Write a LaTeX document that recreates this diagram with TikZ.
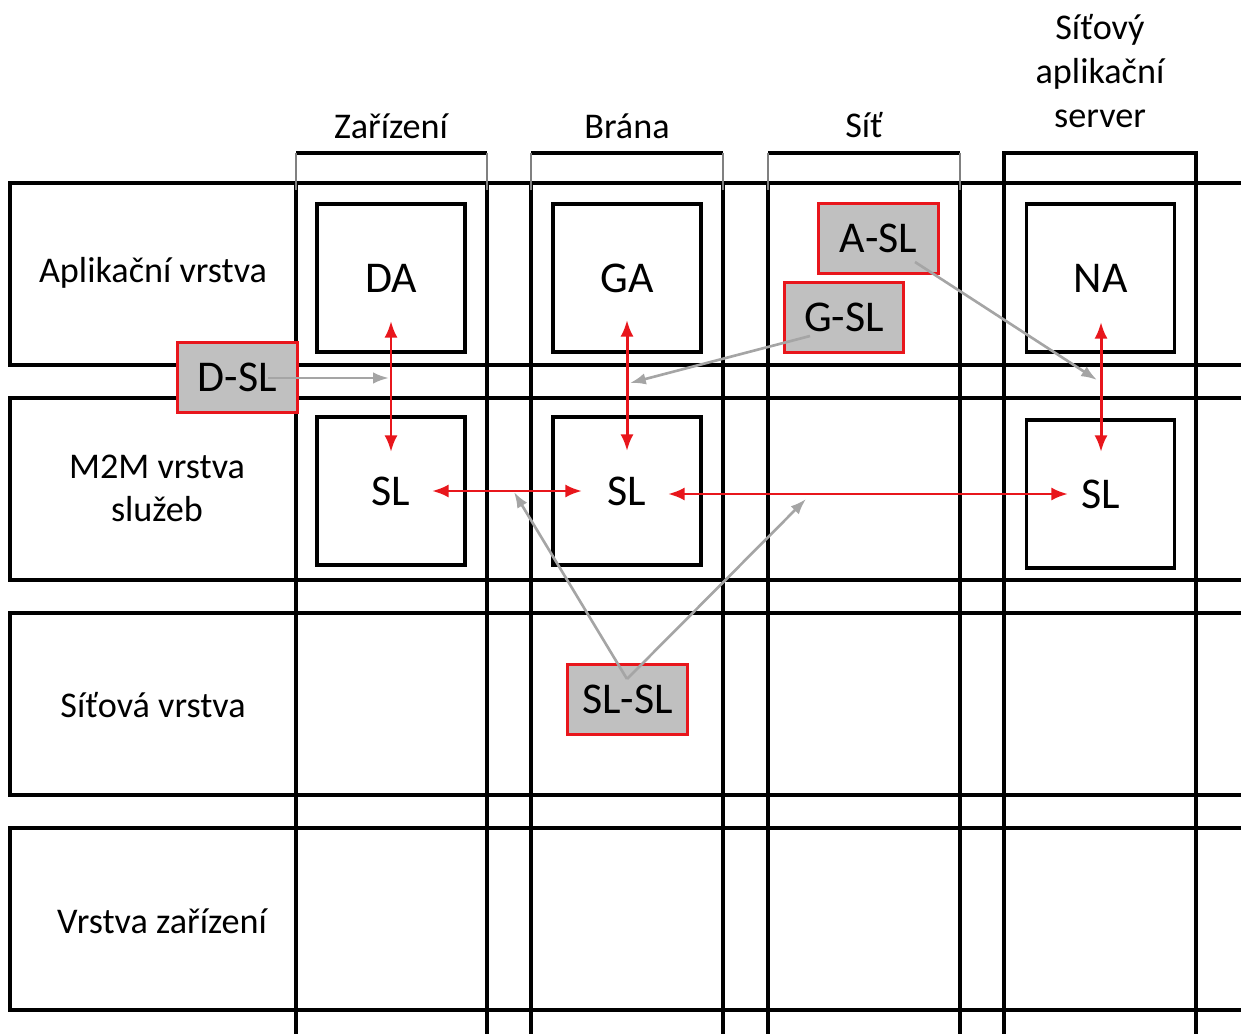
\documentclass[tikz,border=0pt]{standalone}
\usepackage{fontspec}
\setmainfont{Carlito}
\usetikzlibrary{arrows.meta}
\definecolor{myred}{RGB}{232,22,28}
\definecolor{mygrey}{RGB}{165,165,165}
\definecolor{boxfill}{RGB}{192,192,192}
\begin{document}
\begin{tikzpicture}[x=0.02cm,y=-0.02cm,
  grid/.style={line width=1.9pt,black},
  bracketside/.style={line width=0.6pt,gray},
  inbox/.style={draw=black,line width=1.9pt,minimum width=2.96cm,minimum height=2.96cm,inner sep=0pt,font=\fontsize{25}{30}\selectfont},
  redbox/.style={draw=myred,fill=boxfill,line width=1.7pt,minimum width=2.39cm,minimum height=1.4cm,inner sep=0pt,font=\fontsize{25}{30}\selectfont},
  lbl/.style={anchor=base,font=\fontsize{20.6}{25}\selectfont,inner sep=0pt},
  redarrow/.style={myred,line width=1.7pt,{Latex[length=9.5pt,width=7.5pt]}-{Latex[length=9.5pt,width=7.5pt]}},
  greyarrow/.style={mygrey,line width=1.5pt,-{Latex[length=9pt,width=6.5pt]}}]
\useasboundingbox (0,0) rectangle (1241,1034);
\clip (0,0) rectangle (1241,1034);
% rows
\foreach \t/\b in {183/365, 398/580, 613/795, 828/1010}
  \draw[grid] (1260,\t) -- (10,\t) -- (10,\b) -- (1260,\b);
% columns
\foreach \l/\r in {296/487, 531/723, 768/960} {
  \draw[grid] (\l,183) -- (\l,1050) (\r,183) -- (\r,1050);
  \draw[grid] (\l,153) -- (\r,153);
  \draw[bracketside] (\l,153) -- (\l,190) (\r,153) -- (\r,190);
}
\draw[grid] (1004,1050) -- (1004,153) -- (1196,153) -- (1196,1050);
% column labels
\node[lbl] (cz) at (391,138) {Zařízení};
\node[lbl] (cb) at (627,138) {Brána};
\node[lbl] (cs) at (864,137) {Síť};
\node[lbl] (cn1) at (1100,40) {Síťový};
\node[lbl] (cn2) at (1100,84) {aplikační};
\node[lbl] (cn3) at (1100,128) {server};
% row labels
\node[lbl] (r1) at (153,282) {Aplikační vrstva};
\node[lbl] (r2a) at (157,478) {M2M vrstva};
\node[lbl] (r2b) at (157,521) {služeb};
\node[lbl] (r3) at (153,717) {Síťová vrstva};
\node[lbl] (r4) at (162,933) {Vrstva zařízení};
% inner boxes
\node[inbox] (da) at (391,278) {DA};
\node[inbox] (ga) at (627,278) {GA};
\node[inbox] (na) at (1100.5,278) {NA};
\node[inbox] (sl1) at (391,491) {SL};
\node[inbox] (sl2) at (627,491) {SL};
\node[inbox] (sl4) at (1100.5,494) {SL};
% red arrow ends
\coordinate (daT) at (391,321);  \coordinate (sl1T) at (391,452);
\coordinate (gaT) at (627,320);  \coordinate (sl2T) at (627,451);
\coordinate (naT) at (1101,322); \coordinate (sl4T) at (1101,452);
\coordinate (sl1R) at (432,491); \coordinate (sl2L) at (582,491);
\coordinate (sl2R) at (668,494); \coordinate (sl4L) at (1068,494);
\draw[redarrow] (daT) -- (sl1T);
\draw[redarrow] (gaT) -- (sl2T);
\draw[redarrow] (naT) -- (sl4T);
\draw[redarrow] (sl1R) -- (sl2L);
\draw[redarrow] (sl2R) -- (sl4L);
% red boxes
\node[redbox] (dsl) at (237.5,377.5) {D-SL};
\node[redbox] (asl) at (878.5,238.5) {A-SL};
\node[redbox] (gsl) at (844,317.5) {G-SL};
\node[redbox] (slsl) at (627.5,699.5) {SL-SL};
% grey arrows
\coordinate (dslS) at (268,378);  \coordinate (dslE) at (389,378);
\coordinate (aslS) at (915,262);  \coordinate (aslE) at (1097,380);
\coordinate (gslS) at (810,336);  \coordinate (gslE) at (630,383);
\coordinate (slslS) at (627,679); \coordinate (slslL) at (514,492); \coordinate (slslR) at (806,499);
\draw[greyarrow] (dslS) -- (dslE);
\draw[greyarrow] (aslS) -- (aslE);
\draw[greyarrow] (gslS) -- (gslE);
\draw[greyarrow] (slslS) -- (slslL);
\draw[greyarrow] (slslS) -- (slslR);
\end{tikzpicture}
\end{document}
